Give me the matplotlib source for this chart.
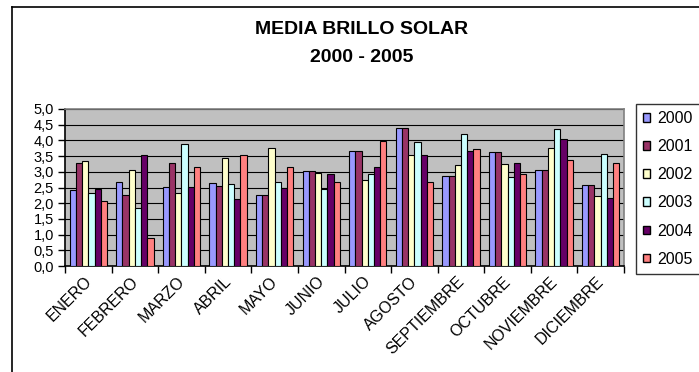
import matplotlib
matplotlib.use("Agg")
import matplotlib.pyplot as plt
import numpy as np
from matplotlib.patches import Patch
from matplotlib.lines import Line2D
from matplotlib.ticker import FuncFormatter, MultipleLocator, FixedLocator

plt.rcParams['font.family'] = ['Liberation Sans', 'DejaVu Sans']

months = ["ENERO", "FEBRERO", "MARZO", "ABRIL", "MAYO", "JUNIO", "JULIO",
          "AGOSTO", "SEPTIEMBRE", "OCTUBRE", "NOVIEMBRE", "DICIEMBRE"]
years = ["2000", "2001", "2002", "2003", "2004", "2005"]

v2000 = [2.41, 2.69, 2.51, 2.65, 2.27, 3.01, 3.65, 4.41, 2.88, 3.62, 3.07, 2.57]
v2001 = [3.29, 2.27, 3.29, 2.56, 2.27, 3.01, 3.65, 4.41, 2.88, 3.62, 3.07, 2.57]
v2002 = [3.34, 3.06, 2.31, 3.44, 3.76, 2.97, 2.74, 3.52, 3.21, 3.25, 3.76, 2.23]
v2003 = [2.33, 1.85, 3.89, 2.60, 2.69, 2.46, 2.93, 3.94, 4.21, 2.82, 4.36, 3.58]
v2004 = [2.46, 3.52, 2.51, 2.12, 2.47, 2.92, 3.16, 3.52, 3.66, 3.29, 4.03, 2.18]
v2005 = [2.08, 0.88, 3.15, 3.52, 3.16, 2.69, 3.98, 2.69, 3.72, 2.93, 3.39, 3.29]
series = [v2000, v2001, v2002, v2003, v2004, v2005]

colors = ["#9999FF", "#993366", "#FFFFCC", "#CCFFFF", "#660066", "#FF8080"]

W, H = 699, 372
fig = plt.figure(figsize=(W / 100, H / 100), dpi=100)
fig.patch.set_facecolor("white")

ax = fig.add_axes([65 / W, 1 - 266 / H, (624 - 65) / W, (266 - 109) / H])
ax.set_facecolor("#C0C0C0")

x = np.arange(len(months))
bw = 0.8 / len(series)
for i, (vals, c, lab) in enumerate(zip(series, colors, years)):
    ax.bar(x - 0.4 + bw * (i + 0.5), vals, width=bw, color=c,
           edgecolor="black", linewidth=0.8, label=lab, zorder=3)

ax.set_xlim(-0.5, len(months) - 0.5)
ax.set_ylim(0, 5)
ax.yaxis.set_major_locator(MultipleLocator(0.5))
ax.yaxis.set_major_formatter(FuncFormatter(lambda v, p: f"{v:.1f}".replace(".", ",")))
ax.grid(axis="y", color="black", linewidth=0.8, zorder=1)
ax.set_axisbelow(True)

ax.set_xticks(x + 0.02)
ax.set_xticklabels(months, rotation=45, ha="right", va="center",
                   rotation_mode="anchor", fontsize=11.5)
ax.xaxis.set_minor_locator(FixedLocator(np.arange(-0.5, len(months), 1.0)))
ax.tick_params(axis="x", which="major", length=0, pad=9.5)
ax.tick_params(axis="x", which="minor", length=5, width=1, color="black")
ax.tick_params(axis="y", length=5, width=1, labelsize=10.5, pad=3)

for s in ["left", "bottom"]:
    ax.spines[s].set_color("black")
    ax.spines[s].set_linewidth(1.2)
for s in ["top", "right"]:
    ax.spines[s].set_color("#808080")
    ax.spines[s].set_linewidth(1.2)

fig.text(362 / W, 1 - 29.5 / H, "MEDIA BRILLO SOLAR", ha="center", va="center",
         fontsize=14, fontweight="bold")
fig.text(362 / W, 1 - 57 / H, "2000 - 2005", ha="center", va="center",
         fontsize=14, fontweight="bold")

handles = [Patch(facecolor=c, edgecolor="black", linewidth=1, label=l)
           for c, l in zip(colors, years)]
leg = fig.legend(handles=handles, loc="upper left",
                 bbox_to_anchor=(636 / W, 1 - 104 / H), fontsize=11.5,
                 frameon=True, fancybox=False, shadow=False,
                 handlelength=0.45, handleheight=0.45, handletextpad=0.45,
                 labelspacing=0.82, borderpad=0.45, borderaxespad=0)
leg.get_frame().set_edgecolor("black")
leg.get_frame().set_linewidth(1)

fig.add_artist(Line2D([11.5 / W, 11.5 / W], [0, 1 - 6.5 / H], color="black",
                      linewidth=1.2, transform=fig.transFigure))
fig.add_artist(Line2D([11.5 / W, 1], [1 - 6.5 / H, 1 - 6.5 / H], color="black",
                      linewidth=1.2, transform=fig.transFigure))

fig.savefig("out.png", dpi=100)
